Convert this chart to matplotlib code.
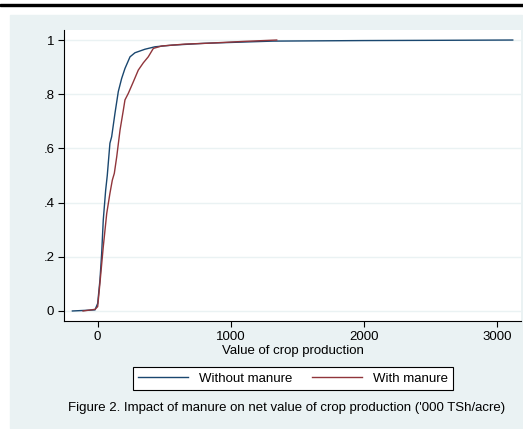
import matplotlib
matplotlib.use("Agg")
import matplotlib.pyplot as plt
from matplotlib.patches import Rectangle

plt.rcParams['font.family'] = ['Liberation Sans', 'DejaVu Sans']

# datos (CDF del valor de produccion)
x_sin = [-190, -20, 0, 17, 30, 42, 60, 72, 92, 105, 130, 155, 180, 205, 243, 280, 355, 430, 556, 806, 1317, 2000, 2600, 3118]
y_sin = [0, 0.004, 0.028, 0.114, 0.213, 0.336, 0.446, 0.5, 0.619, 0.643, 0.73, 0.81, 0.858, 0.895, 0.938, 0.953, 0.966, 0.975, 0.981, 0.988, 0.996, 0.998, 0.999, 1.0]

x_con = [-110, -20, 0, 17, 42, 68, 92, 110, 125, 143, 168, 193, 205, 230, 268, 305, 343, 380, 418, 481, 656, 819, 1100, 1345]
y_con = [0, 0.006, 0.016, 0.103, 0.237, 0.36, 0.434, 0.483, 0.508, 0.569, 0.668, 0.742, 0.779, 0.803, 0.846, 0.889, 0.916, 0.938, 0.969, 0.978, 0.985, 0.988, 0.995, 1.0]

xticks = [0, 1000, 2000, 3000]
yticks = [0, 0.2, 0.4, 0.6, 0.8, 1]
yticklabels = ['0', '.2', '.4', '.6', '.8', '1']

fondo = '#EAF2F3'
azul = '#1A476F'
rojo = '#90353B'

W, H = 523, 429
fig = plt.figure(figsize=(W / 100, H / 100), dpi=100)

# linea negra superior y region del grafico
fig.patches.append(Rectangle((0, 1 - 6 / H), 1, 2.5 / H, transform=fig.transFigure,
                             color='black', zorder=-5))
fig.patches.append(Rectangle((10 / W, 1 - 428 / H), 512 / W, 413 / H, transform=fig.transFigure,
                             color=fondo, zorder=-5))

ax = fig.add_axes([64 / W, (H - 321) / H, (521 - 64) / W, (321 - 30) / H])
ax.set_facecolor('white')

ax.plot(x_sin, y_sin, color=azul, lw=1.0, label='Without manure')
ax.plot(x_con, y_con, color=rojo, lw=1.0, label='With manure')

ax.set_xlim(-253, 3180)
ax.set_ylim(-0.037, 1.037)
ax.set_xticks(xticks)
ax.set_yticks(yticks)
ax.set_yticklabels(yticklabels)
ax.tick_params(labelsize=9.5, length=4, width=0.8, color='black', pad=3)
ax.yaxis.grid(True, color=fondo, lw=1.0)
ax.set_axisbelow(True)

for lado in ['top', 'right']:
    ax.spines[lado].set_visible(False)
for lado in ['left', 'bottom']:
    ax.spines[lado].set_linewidth(0.8)

ax.set_xlabel('Value of crop production', fontsize=9.5, labelpad=1.5)

leg = fig.legend(loc='center', bbox_to_anchor=(293 / W, 1 - 378.5 / H), ncol=2, fontsize=9.5,
                 frameon=True, fancybox=False, edgecolor='black', framealpha=1,
                 handlelength=3.8, columnspacing=1.5, borderpad=0.4)
leg.get_frame().set_linewidth(0.8)

fig.text(287 / W, 1 - 408 / H,
         "Figure 2. Impact of manure on net value of crop production ('000 TSh/acre)",
         ha='center', va='center', fontsize=9.5)

plt.savefig('out.png', dpi=100)
